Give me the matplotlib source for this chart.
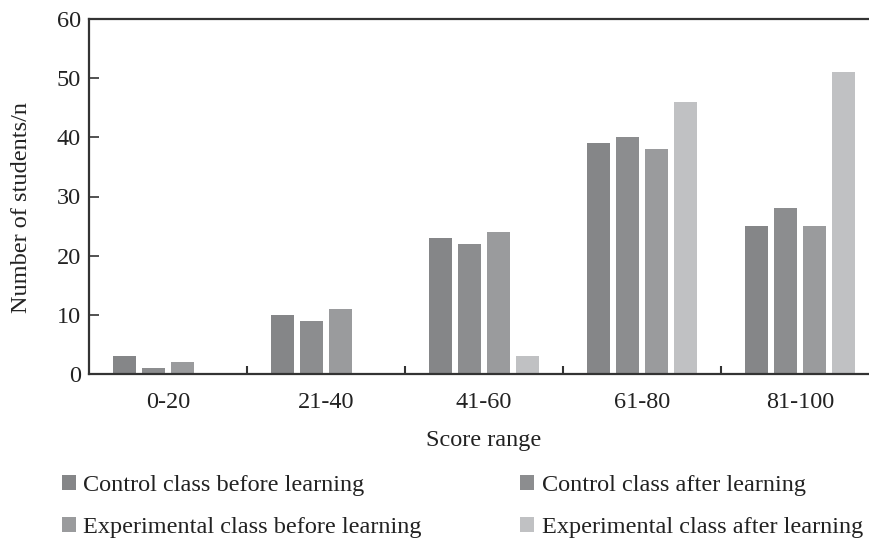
import matplotlib
matplotlib.use("Agg")
import matplotlib.pyplot as plt
import numpy as np

categories = ["0-20", "21-40", "41-60", "61-80", "81-100"]
series_names = ["Control class before learning", "Control class after learning",
                "Experimental class before learning", "Experimental class after learning"]
control_before = [3, 10, 23, 39, 25]
control_after = [1, 9, 22, 40, 28]
experimental_before = [2, 11, 24, 38, 25]
experimental_after = [0, 0, 3, 46, 51]
yticks = [0, 10, 20, 30, 40, 50, 60]

colors = ["#858688", "#8c8d8f", "#9a9b9d", "#c0c1c3"]

plt.rcParams['font.family'] = ['Liberation Serif', 'DejaVu Serif']
FS = 17.5

fig = plt.figure(figsize=(8.7, 5.44), dpi=100)
ax = fig.add_axes([89/870, 1-374/544, (879-89)/870, (374-19)/544])

x = np.arange(len(categories))
step = 0.183
width = 0.146
series = [control_before, control_after, experimental_before, experimental_after]
handles = []
for i, (vals, c, name) in enumerate(zip(series, colors, series_names)):
    b = ax.bar(x + (i - 1.5) * step, vals, width=width, color=c, label=name)
    handles.append(b)

ax.set_xlim(-0.5, 4.5)
ax.set_ylim(0, 60)
ax.set_yticks(yticks)
ax.set_xticks(x)
ax.set_xticklabels(categories)
ax.set_xticks(np.arange(0.5, 4.5, 1), minor=True)
ax.tick_params(axis='x', which='major', length=0, pad=13, labelsize=FS, labelcolor='#222222')
ax.tick_params(axis='x', which='minor', direction='in', length=6, width=1.5, color='#333333')
ax.tick_params(axis='y', direction='in', length=7, width=1.2, color='#333333', labelsize=FS,
               pad=6, labelcolor='#222222')
for s in ax.spines.values():
    s.set_linewidth(1.6)
    s.set_color('#333333')
ax.spines['right'].set_visible(False)

ax.set_xlabel("Score range", fontsize=FS, labelpad=12, color='#222222')
ax.set_ylabel("Number of students/n", fontsize=FS, color='#222222')
ax.yaxis.set_label_coords(-0.072, 0.47)

order = [0, 2, 1, 3]
leg = fig.legend([handles[i] for i in order], [series_names[i] for i in order],
                 ncol=2, loc='upper left', bbox_to_anchor=(62/870, 1-475/544),
                 frameon=False, fontsize=FS, handlelength=0.58, handleheight=0.58,
                 handletextpad=0.3, columnspacing=4.05, labelspacing=0.86, borderpad=0,
                 borderaxespad=0)
for t in leg.get_texts():
    t.set_color('#222222')

fig.savefig("out.png", dpi=100)
